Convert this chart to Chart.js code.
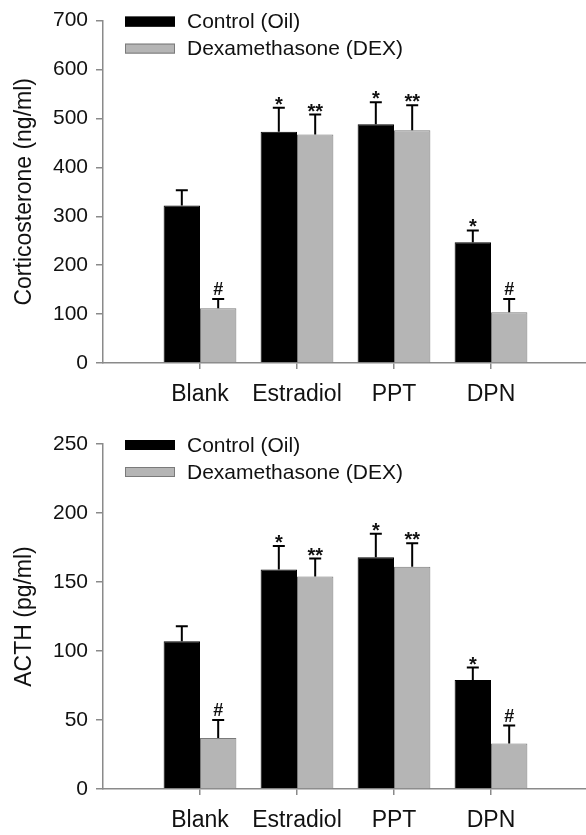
<!DOCTYPE html>
<html>
<head>
<meta charset="utf-8">
<script src="https://cdn.jsdelivr.net/npm/chart.js@4/dist/chart.umd.min.js"></script>
<style>
  html, body { margin: 0; padding: 0; background: #fff; overflow: hidden; width: 586px; height: 835px; }
  .box { position: absolute; left: 0; }
</style>
</head>
<body>
<div class="box" style="top:0"><canvas id="cortico" width="600" height="415"></canvas></div>
<div class="box" style="top:415px"><canvas id="acth" width="600" height="420"></canvas></div>
<script>
// data
const categories = ["Blank", "Estradiol", "PPT", "DPN"];
const seriesNames = ["Control (Oil)", "Dexamethasone (DEX)"];

const corticoOil = [322, 473, 488, 247];
const corticoOilErr = [31, 49, 45, 24];
const corticoDex = [112, 467, 476, 104];
const corticoDexErr = [19, 41, 51, 27];

const acthOil = [107, 159, 168, 79];
const acthOilErr = [11, 17, 17, 9];
const acthDex = [37, 154, 161, 33];
const acthDexErr = [13, 13, 17, 13];

const oilMarks = ["", "*", "*", "*"];
const dexMarks = ["#", "**", "**", "#"];

const corticoTicks = [0, 100, 200, 300, 400, 500, 600, 700];
const acthTicks = [0, 50, 100, 150, 200, 250];

const FONT = "'Liberation Sans', Arial, sans-serif";
const AXIS = "#8a8a8a";

// empty slot before and after the groups, like the original axis
const pad = arr => [null, ...arr, null];

// error bars + significance marks
const errorBars = {
    id: "errorBars",
    afterDatasetsDraw(chart) {
        const ctx = chart.ctx;
        const y = chart.scales.y;
        chart.data.datasets.forEach((ds, i) => {
            const meta = chart.getDatasetMeta(i);
            meta.data.forEach((bar, j) => {
                const v = ds.data[j], e = ds.errors[j];
                if (v == null || e == null) return;
                const top = y.getPixelForValue(v + e);
                ctx.save();
                ctx.strokeStyle = "#000";
                ctx.lineWidth = 2;
                ctx.beginPath();
                ctx.moveTo(bar.x, bar.y);
                ctx.lineTo(bar.x, top);
                ctx.moveTo(bar.x - 6, top);
                ctx.lineTo(bar.x + 6, top);
                ctx.stroke();
                const m = ds.marks[j];
                if (m) {
                    ctx.fillStyle = "#111";
                    ctx.textAlign = "center";
                    ctx.textBaseline = "alphabetic";
                    if (m.includes("#")) {
                        ctx.font = "bold 18px " + FONT;
                        ctx.fillText(m, bar.x, top - 4);
                    } else {
                        ctx.font = "bold 20px " + FONT;
                        ctx.fillText(m, bar.x, top + 3);
                    }
                }
                ctx.restore();
            });
        });
    }
};

// legend drawn inside the plot, stacked
const innerLegend = {
    id: "innerLegend",
    afterDraw(chart) {
        const ctx = chart.ctx;
        const a = chart.chartArea;
        chart.data.datasets.forEach((ds, i) => {
            const cy = a.top + 1 + i * 27;
            const x = a.left + 22;
            ctx.save();
            ctx.fillStyle = ds.backgroundColor;
            ctx.fillRect(x, cy - 5, 50, 10);
            ctx.strokeStyle = ds.borderColor;
            ctx.lineWidth = 1;
            ctx.strokeRect(x + 0.5, cy - 4.5, 49, 9);
            ctx.fillStyle = "#111";
            ctx.font = "21px " + FONT;
            ctx.textAlign = "left";
            ctx.textBaseline = "middle";
            ctx.fillText(ds.label, x + 62, cy + 1);
            ctx.restore();
        });
    }
};

function makeChart(id, oil, oilErr, dex, dexErr, ticks, title, areaTop, axisH) {
    const step = ticks[1] - ticks[0];
    return new Chart(document.getElementById(id), {
        type: "bar",
        data: {
            labels: ["", ...categories, ""],
            datasets: [
                {
                    label: seriesNames[0],
                    data: pad(oil),
                    errors: pad(oilErr),
                    marks: pad(oilMarks),
                    backgroundColor: "#000000",
                    borderColor: "#000000",
                    borderWidth: 1,
                },
                {
                    label: seriesNames[1],
                    data: pad(dex),
                    errors: pad(dexErr),
                    marks: pad(dexMarks),
                    backgroundColor: "#b5b5b5",
                    borderColor: "#7a7a7a",
                    borderWidth: 1,
                },
            ],
        },
        options: {
            responsive: false,
            animation: false,
            categoryPercentage: 0.75,
            barPercentage: 1,
            layout: { padding: { top: areaTop, right: 4, left: 0, bottom: 0 } },
            plugins: { legend: { display: false }, tooltip: { enabled: false } },
            scales: {
                x: {
                    offset: false,
                    afterFit: s => { s.height = axisH; },
                    border: { color: AXIS, width: 1.5 },
                    grid: {
                        offset: false,
                        drawOnChartArea: false,
                        tickLength: 6,
                        color: c => (c.index === 0 ? "rgba(0,0,0,0)" : AXIS),
                        lineWidth: 1.5,
                    },
                    ticks: { autoSkip: false, maxRotation: 0, padding: 12, color: "#111", font: { family: FONT, size: 23 } },
                },
                y: {
                    min: ticks[0],
                    max: ticks[ticks.length - 1],
                    afterFit: s => { s.width = 103; },
                    border: { color: AXIS, width: 1.5 },
                    grid: { drawOnChartArea: false, tickLength: 7, color: AXIS, lineWidth: 1.5 },
                    ticks: { stepSize: step, padding: 8, color: "#111", font: { family: FONT, size: 21 } },
                    title: { display: true, text: title, color: "#111", padding: { top: 11 }, font: { family: FONT, size: 23 } },
                },
            },
        },
        plugins: [errorBars, innerLegend],
    });
}

makeChart("cortico", corticoOil, corticoOilErr, corticoDex, corticoDexErr, corticoTicks, "Corticosterone (ng/ml)", 20, 52);
makeChart("acth", acthOil, acthOilErr, acthDex, acthDexErr, acthTicks, "ACTH (pg/ml)", 29, 46);
</script>
</body>
</html>
